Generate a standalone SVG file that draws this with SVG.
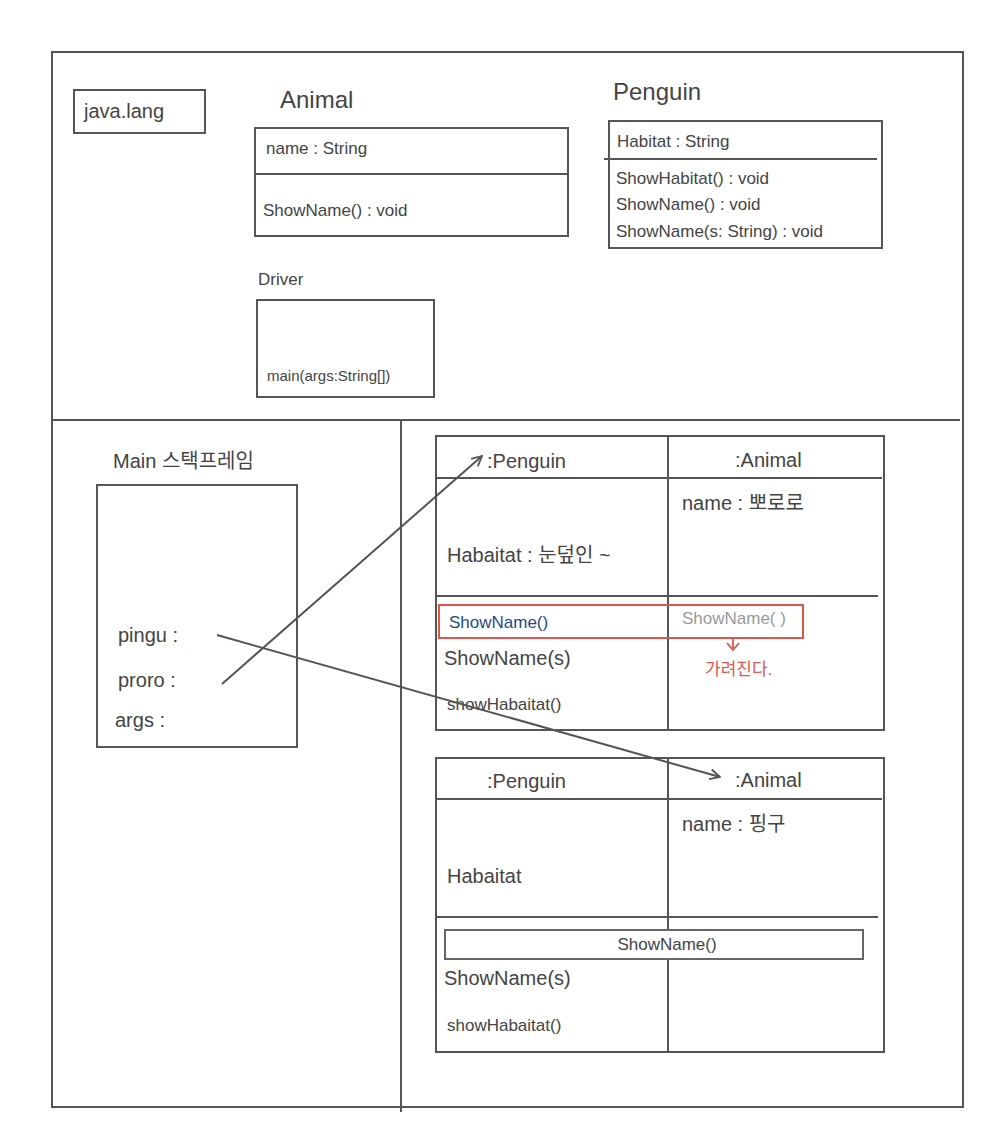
<svg xmlns="http://www.w3.org/2000/svg" width="1000" height="1147" viewBox="0 0 1000 1147">
<style>
.ln{fill:none;stroke:#555;stroke-width:2}
.t{font-family:"Liberation Sans","Noto Sans CJK KR",sans-serif;fill:#444;font-size:18px}
.lg{font-size:24px}
.md{font-size:20px}
.sm{font-size:17px}
</style>
<defs>
<marker id="ah" viewBox="0 0 12 12" refX="11" refY="6" markerWidth="12" markerHeight="12" markerUnits="userSpaceOnUse" orient="auto">
<path d="M1,1 L11,6 L1,11" fill="none" stroke="#555" stroke-width="1.8"/>
</marker>
</defs>
<rect width="1000" height="1147" fill="#fff"/>
<g id="frame">
<rect class="ln" x="52" y="52" width="911" height="1055"/>
<line class="ln" x1="52" y1="420" x2="960" y2="420"/>
<line class="ln" x1="401" y1="420" x2="401" y2="1112"/>
</g>
<g id="javalang">
<rect class="ln" x="74" y="90" width="131" height="43"/>
<text class="t md" x="84" y="118">java.lang</text>
</g>
<g id="animal-class">
<text class="t lg" x="280" y="108">Animal</text>
<rect class="ln" x="255" y="128" width="313" height="108"/>
<line class="ln" x1="255" y1="174" x2="568" y2="174"/>
<text class="t sm" x="266" y="154">name  : String</text>
<text class="t sm" x="263" y="216">ShowName() : void</text>
</g>
<g id="driver-class">
<text class="t sm" x="258" y="285">Driver</text>
<rect class="ln" x="257" y="300" width="177" height="97"/>
<text class="t" x="267" y="381" style="font-size:15px">main(args:String[])</text>
</g>
<g id="penguin-class">
<text class="t lg" x="613" y="100">Penguin</text>
<rect class="ln" x="609" y="121" width="273" height="127"/>
<line class="ln" x1="604" y1="159" x2="877" y2="159"/>
<text class="t sm" x="617" y="147">Habitat  : String</text>
<text class="t sm" x="616" y="184">ShowHabitat() : void</text>
<text class="t sm" x="616" y="210">ShowName() : void</text>
<text class="t sm" x="616" y="237">ShowName(s: String) : void</text>
</g>
<g id="main-stack">
<text class="t md" x="113" y="468">Main 스택프레임</text>
<rect class="ln" x="97" y="485" width="200" height="262"/>
<text class="t md" x="118" y="642">pingu :</text>
<text class="t md" x="118" y="687">proro :</text>
<text class="t md" x="115" y="727">args :</text>
</g>
<g id="object-proro">
<rect class="ln" x="436" y="436" width="448" height="294"/>
<line class="ln" x1="668" y1="436" x2="668" y2="730"/>
<line class="ln" x1="436" y1="478" x2="882" y2="478"/>
<line class="ln" x1="436" y1="596" x2="878" y2="596"/>
<text class="t md" x="487" y="468">:Penguin</text>
<text class="t md" x="735" y="467">:Animal</text>
<text class="t md" x="447" y="562">Habaitat : 눈덮인 ~</text>
<text class="t md" x="682" y="510">name : 뽀로로</text>
<rect x="439" y="605" width="364" height="33" fill="none" stroke="#e0564c" stroke-width="2"/>
<text class="t sm" x="449" y="628" style="fill:#1f4a8c">ShowName()</text>
<text class="t sm" x="682" y="624" style="fill:#9a9a9a">ShowName( )</text>
<path d="M733,638 V648 M727,643 L733,650 L739,643" fill="none" stroke="#e0564c" stroke-width="1.8"/>
<text class="t sm" x="705" y="675" style="fill:#e0564c">가려진다.</text>
<text class="t md" x="444" y="665">ShowName(s)</text>
<text class="t sm" x="447" y="710">showHabaitat()</text>
</g>
<g id="object-pingu">
<rect class="ln" x="436" y="758" width="448" height="294"/>
<line class="ln" x1="668" y1="758" x2="668" y2="1052"/>
<line class="ln" x1="436" y1="799" x2="882" y2="799"/>
<line class="ln" x1="436" y1="917" x2="878" y2="917"/>
<text class="t md" x="487" y="788">:Penguin</text>
<text class="t md" x="735" y="787">:Animal</text>
<text class="t md" x="682" y="831">name : 핑구</text>
<text class="t md" x="447" y="883">Habaitat</text>
<rect x="445" y="930" width="418" height="29" fill="#fff" stroke="#666" stroke-width="2"/>
<text class="t sm" x="667" y="950" text-anchor="middle">ShowName()</text>
<text class="t md" x="444" y="985">ShowName(s)</text>
<text class="t sm" x="447" y="1031">showHabaitat()</text>
</g>
<g id="connectors">
<line class="ln" x1="222" y1="684" x2="482" y2="456" marker-end="url(#ah)"/>
<line class="ln" x1="217" y1="635" x2="720" y2="777" marker-end="url(#ah)"/>
</g>
</svg>
